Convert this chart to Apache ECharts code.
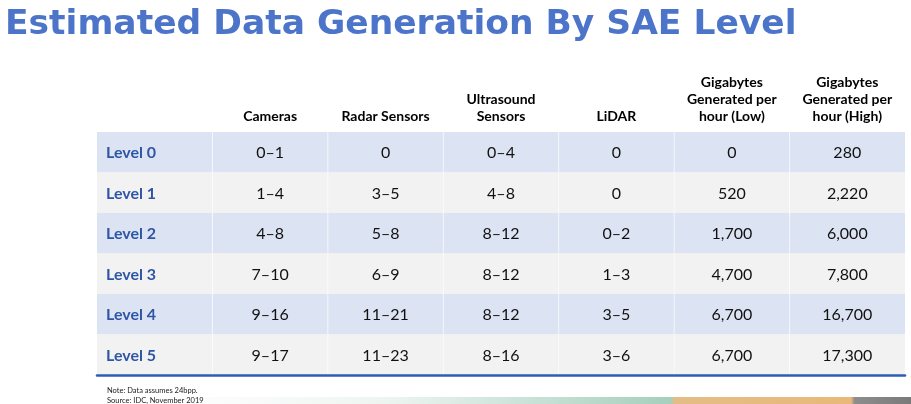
<!DOCTYPE html>
<meta charset="utf-8">
<style>
html, body { margin: 0; padding: 0; background: #fff; }
#container { width: 911px; height: 404px; }
</style>
<body>
<div id="container"></div>
<script src="https://cdn.jsdelivr.net/npm/echarts@6/dist/echarts.min.js"></script>
<script>

var levels = ['Level 0', 'Level 1', 'Level 2', 'Level 3', 'Level 4', 'Level 5'];
var headers = ['', 'Cameras', 'Radar Sensors', 'Ultrasound\nSensors', 'LiDAR',
  'Gigabytes\nGenerated per\nhour (Low)', 'Gigabytes\nGenerated per\nhour (High)'];
var cameras = ['0–1', '1–4', '4–8', '7–10', '9–16', '9–17'];
var radar = ['0', '3–5', '5–8', '6–9', '11–21', '11–23'];
var ultrasound = ['0–4', '4–8', '8–12', '8–12', '8–12', '8–16'];
var lidar = ['0', '0', '0–2', '1–3', '3–5', '3–6'];
var gbLow = [0, 520, 1700, 4700, 6700, 6700];
var gbHigh = [280, 2220, 6000, 7800, 16700, 17300];

// one entry per cell: [column, row], text kept in a parallel list
var cells = [];
var cellText = [];
levels.forEach(function (lv, r) {
  var row = [lv, cameras[r], radar[r], ultrasound[r], lidar[r],
    gbLow[r].toLocaleString('en-US'), gbHigh[r].toLocaleString('en-US')];
  row.forEach(function (t, c) {
    cells.push([c, r]);
    cellText.push(t);
  });
});

var dom = document.getElementById('container');
var myChart = echarts.init(dom, null, { renderer: 'canvas' });

function renderCell(params, api) {
  var col = api.value(0), row = api.value(1);
  var p = api.coord([col, row]);
  var s = api.size([1, 1]);
  var x0 = p[0] - s[0] / 2, y0 = p[1] - s[1] / 2;
  var children = [{
    type: 'rect',
    shape: { x: x0, y: y0, width: s[0], height: s[1] },
    style: { fill: row % 2 === 0 ? '#dce4f3' : '#f2f2f2' }
  }];
  if (col > 0) {
    children.push({
      type: 'line',
      shape: { x1: x0, y1: y0, x2: x0, y2: y0 + s[1] },
      style: { stroke: 'rgba(255,255,255,0.6)', lineWidth: 1 }
    });
  }
  var first = col === 0;
  children.push({
    type: 'text',
    style: {
      text: cellText[params.dataIndex],
      x: first ? x0 + 9 : p[0],
      y: p[1] + 1,
      align: first ? 'left' : 'center',
      verticalAlign: 'middle',
      fill: first ? '#2f56a6' : '#111',
      font: (first ? 'bold ' : '') + '16px Lato'
    }
  });
  return { type: 'group', children: children };
}

var option = {
  backgroundColor: '#fff',
  animation: false,
  title: {
    text: 'Estimated Data Generation By SAE Level',
    left: 0,
    top: 3,
    textStyle: {
      fontFamily: 'DejaVu Sans',
      fontWeight: 'bold',
      fontSize: 34.5,
      color: '#4c75ca'
    }
  },
  graphic: [
    {
      type: 'rect',
      shape: { x: 160, y: 397, width: 751, height: 7 },
      style: {
        fill: new echarts.graphic.LinearGradient(0, 0, 1, 0, [
          { offset: 0, color: '#ffffff' },
          { offset: 0.3, color: '#eef5f1' },
          { offset: 0.68, color: '#a6cfbd' },
          { offset: 0.685, color: '#e4bd86' },
          { offset: 0.92, color: '#e8b97a' },
          { offset: 0.925, color: '#8d8d8d' },
          { offset: 1, color: '#7a7a7a' }
        ])
      },
      z: 0
    },
    {
      type: 'text',
      left: 107,
      top: 386,
      style: {
        text: 'Note: Data assumes 24bpp.\nSource: IDC, November 2019',
        font: '7.5px Lato',
        lineHeight: 10,
        fill: '#222'
      }
    }
  ],
  grid: { left: 97, right: 6, top: 132, bottom: 29 },
  xAxis: [
    {
      type: 'category',
      position: 'top',
      data: headers,
      axisLine: { show: false },
      axisTick: { show: false },
      splitLine: { show: false },
      axisLabel: {
        interval: 0,
        margin: 7,
        color: '#000',
        fontFamily: 'Lato',
        fontWeight: 'bold',
        fontSize: 14,
        lineHeight: 17
      }
    },
    {
      type: 'category',
      position: 'bottom',
      data: headers,
      axisTick: { show: false },
      axisLabel: { show: false },
      axisLine: { show: true, lineStyle: { color: '#2d5db6', width: 2.5 } },
      z: 10
    }
  ],
  yAxis: {
    type: 'category',
    inverse: true,
    data: levels,
    axisLine: { show: false },
    axisTick: { show: false },
    axisLabel: { show: false },
    splitLine: { show: false }
  },
  series: [{
    type: 'custom',
    renderItem: renderCell,
    data: cells,
    encode: { x: 0, y: 1 },
    silent: true
  }]
};

myChart.setOption(option);
window.addEventListener('resize', myChart.resize);
</script>
</body>
